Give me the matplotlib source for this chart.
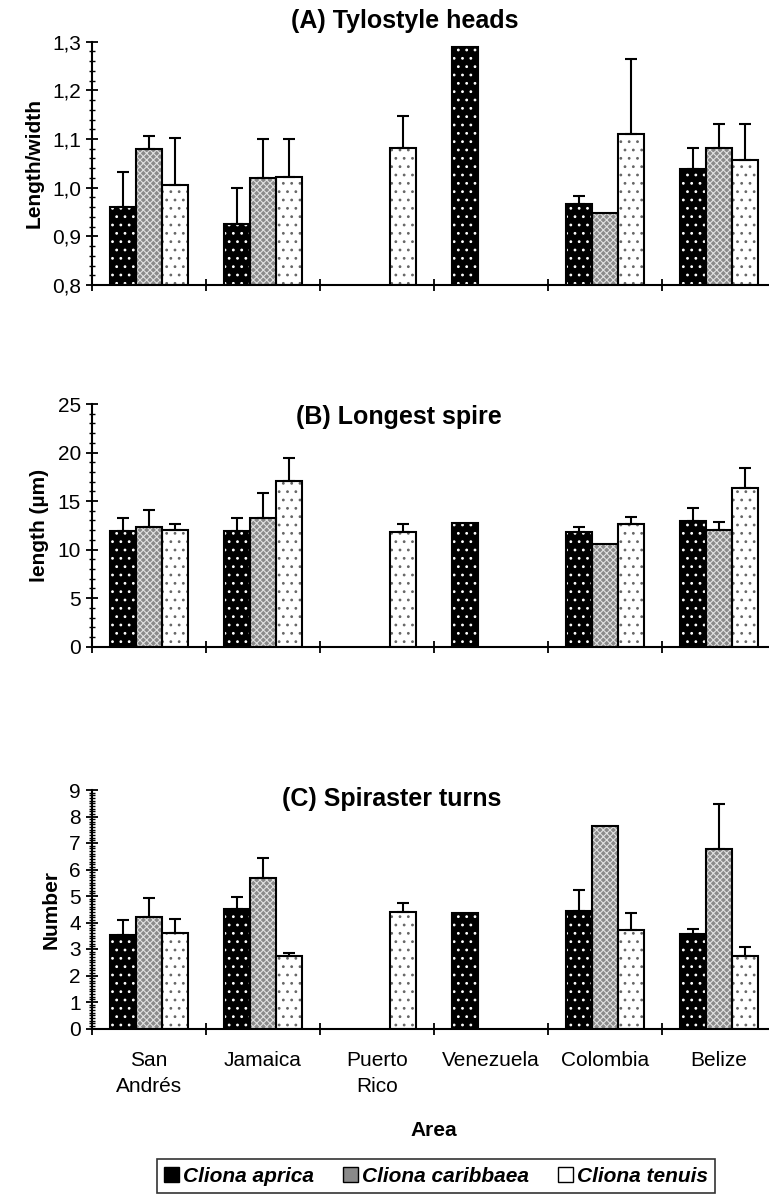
import matplotlib.pyplot as plt
import matplotlib.patches as mpatches
import numpy as np

plt.rcParams['font.family'] = ['Liberation Sans', 'DejaVu Sans']
plt.rcParams['hatch.linewidth'] = 0.8

nan = np.nan

areas = ['San\nAndrés', 'Jamaica', 'Puerto\nRico', 'Venezuela', 'Colombia', 'Belize']
species = ['Cliona aprica', 'Cliona caribbaea', 'Cliona tenuis']

# (A) tylostyle heads, length/width
heads_aprica = [0.960, 0.925, nan, 1.290, 0.967, 1.038]
heads_aprica_sd = [0.073, 0.075, nan, nan, 0.016, 0.044]
heads_caribbaea = [1.079, 1.019, nan, nan, 0.948, 1.082]
heads_caribbaea_sd = [0.027, 0.081, nan, nan, nan, 0.049]
heads_tenuis = [1.005, 1.022, 1.082, nan, 1.111, 1.057]
heads_tenuis_sd = [0.098, 0.078, 0.066, nan, 0.154, 0.074]
heads_ticks = ['0,8', '0,9', '1,0', '1,1', '1,2', '1,3']

# (B) longest spire, length (um)
spire_aprica = [11.92, 11.92, nan, 12.71, 11.85, 12.91]
spire_aprica_sd = [1.37, 1.37, nan, nan, 0.44, 1.34]
spire_caribbaea = [12.36, 13.22, nan, nan, 10.54, 11.98]
spire_caribbaea_sd = [1.72, 2.58, nan, nan, nan, 0.90]
spire_tenuis = [12.02, 17.10, 11.85, nan, 12.67, 16.31]
spire_tenuis_sd = [0.62, 2.37, 0.82, nan, 0.69, 2.13]
spire_ticks = ['0', '5', '10', '15', '20', '25']

# (C) spiraster turns, number
turns_aprica = [3.52, 4.52, nan, 4.35, 4.42, 3.56]
turns_aprica_sd = [0.56, 0.43, nan, nan, 0.81, 0.21]
turns_caribbaea = [4.21, 5.68, nan, nan, 7.65, 6.76]
turns_caribbaea_sd = [0.73, 0.74, nan, nan, nan, 1.71]
turns_tenuis = [3.62, 2.73, 4.41, nan, 3.72, 2.75]
turns_tenuis_sd = [0.50, 0.12, 0.33, nan, 0.63, 0.33]
turns_ticks = ['0', '1', '2', '3', '4', '5', '6', '7', '8', '9']

# face colour, hatch colour, hatch
styles = [('black', 'white', '..'),
          ('#8a8a8a', '#e0e0e0', 'xxxxx'),
          ('white', '#666666', '..')]

W, H = 769, 1196
fig = plt.figure(figsize=(W / 100, H / 100), dpi=100)

FS = 15
bw = 0.228


def panel(top_px, bot_px, series, errs, ticks, minor, ylabel, title, title_xy, xlabels=False):
    ax = fig.add_axes([92 / W, 1 - bot_px / H, 684 / W, (bot_px - top_px) / H])
    tv = [float(t.replace(',', '.')) for t in ticks]
    ymin, ymax = tv[0], tv[-1]
    x = np.arange(len(areas)) + 0.5
    for i, (vals, sd) in enumerate(zip(series, errs)):
        vals = np.array(vals)
        sd = np.array(sd)
        xi = x + (i - 1) * bw
        ok = ~np.isnan(vals)
        face, hc, hatch = styles[i]
        ax.bar(xi[ok], vals[ok] - ymin, bw, bottom=ymin, color=face,
               edgecolor=hc, hatch=hatch, linewidth=0, zorder=2)
        ax.bar(xi[ok], vals[ok] - ymin, bw, bottom=ymin, fill=False,
               edgecolor='black', linewidth=1.5, zorder=3)
        e = ok & ~np.isnan(sd)
        ax.errorbar(xi[e], vals[e], yerr=[np.zeros(e.sum()), sd[e]], fmt='none',
                    ecolor='black', elinewidth=1.5, capsize=4.5, capthick=1.5, zorder=4)
    ax.set_xlim(0, len(areas))
    ax.set_ylim(ymin, ymax)
    ax.set_yticks(tv)
    ax.set_yticklabels(ticks, fontsize=FS)
    ax.set_yticks(np.arange(ymin, ymax + 1e-9, minor), minor=True)
    ax.set_xticks(np.arange(len(areas) + 1))
    ax.set_xticklabels([])
    if xlabels:
        ax.set_xticks(x, minor=True)
        ax.set_xticklabels(areas, minor=True, fontsize=FS, linespacing=1.5)
    ax.tick_params(axis='both', which='major', direction='inout', length=9, width=1.3)
    ax.tick_params(axis='y', which='minor', direction='inout', length=5, width=1)
    ax.tick_params(axis='x', which='minor', length=0, pad=16)
    for s in ['top', 'right']:
        ax.spines[s].set_visible(False)
    for s in ['left', 'bottom']:
        ax.spines[s].set_linewidth(1.5)
    ax.set_ylabel(ylabel, fontsize=FS, fontweight='bold', labelpad=6)
    fig.text(title_xy[0] / W, 1 - title_xy[1] / H, title, fontsize=18,
             fontweight='bold', ha='center', va='center')
    return ax


panel(41.7, 285, [heads_aprica, heads_caribbaea, heads_tenuis],
      [heads_aprica_sd, heads_caribbaea_sd, heads_tenuis_sd],
      heads_ticks, 0.02, 'Length/width', '(A) Tylostyle heads', (405, 21))
panel(404, 646.7, [spire_aprica, spire_caribbaea, spire_tenuis],
      [spire_aprica_sd, spire_caribbaea_sd, spire_tenuis_sd],
      spire_ticks, 1, 'length (µm)', '(B) Longest spire', (399, 417))
axc = panel(790, 1028.5, [turns_aprica, turns_caribbaea, turns_tenuis],
            [turns_aprica_sd, turns_caribbaea_sd, turns_tenuis_sd],
            turns_ticks, 0.1, 'Number', '(C) Spiraster turns', (392, 799), xlabels=True)
axc.set_xlabel('Area', fontsize=FS, fontweight='bold', labelpad=18)

handles = []
for (face, hc, hatch) in styles:
    handles.append(mpatches.Patch(facecolor=face, edgecolor='black', linewidth=1))
leg = fig.legend(handles, species, loc='center', bbox_to_anchor=(436 / W, 1 - 1176 / H),
                 ncol=3, frameon=True, fancybox=False, handlelength=0.7, handleheight=0.7,
                 handletextpad=0.2, columnspacing=1.4, borderpad=0.35,
                 prop={'size': FS, 'weight': 'bold', 'style': 'italic'})
leg.get_frame().set_edgecolor('black')
leg.get_frame().set_linewidth(1.2)

fig.savefig('out.png', dpi=100)
